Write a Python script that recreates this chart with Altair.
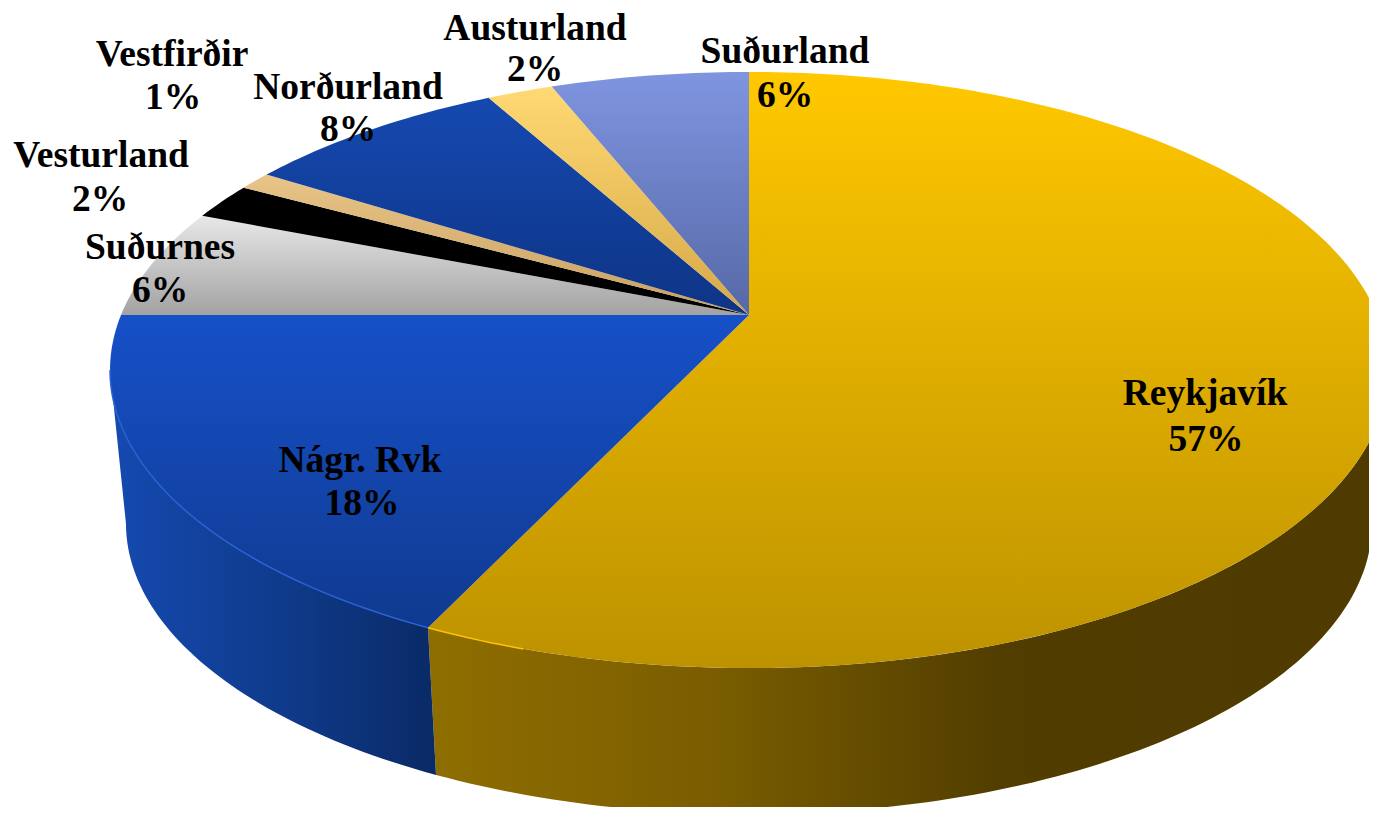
import math
import altair as alt
import pandas as pd

# ---- chart data ----
labels = ["Reykjavík", "Nágr. Rvk", "Suðurnes", "Vesturland", "Vestfirðir", "Norðurland", "Austurland", "Suðurland"]
values = [57, 18, 6, 2, 1, 8, 2, 6]

# ---- styles ----
top_colors = [
    ["#ffc800", "#bd9200"], ["#1650c8", "#103a90"], ["#e8e8e8", "#a2a2a2"], ["#000000", "#000000"],
    ["#e8c488", "#c8a060"], ["#1549b0", "#0e3485"], ["#ffd973", "#d6a848"], ["#7f95e0", "#5668a6"],
]
side_stops = {
    0: [(0, "#8f6e00"), (0.3, "#7a5d00"), (0.6, "#513d00"), (1, "#4f3b00")],
    1: [(0, "#154ab0"), (0.55, "#0f3a8a"), (1, "#0a2a66")],
}
rim_colors = {0: "#ffc400", 1: "#2a62d2"}

# ---- layout of the labels (page pixels, centre of each line) ----
name_x = [1205, 360, 160, 101, 172, 348, 535, 785]
name_y = [394, 461, 248, 156, 55, 88, 29, 52]
pct_x = [1206, 362, 160, 100, 173, 348, 535, 785]
pct_y = [440, 504, 291, 200, 98, 130, 70, 96]

# ---- perspective projection of the pie disc ----
K = 0.1846
TOP = dict(cx=749.0, cy=315.0, f=628.0, g=287.9)
BOT = dict(cx=749.0, cy=470.0, f=628.0 * 0.975, g=287.9 * 0.975)


def proj(t, p):
    a = math.radians(t)
    X, Y = math.sin(a), math.cos(a)
    w = 1 + K * Y
    return [round(p["cx"] + p["f"] * X / w, 2), round(p["cy"] - p["g"] * Y / w, 2)]


def arc(t0, t1, p):
    n = max(2, int(abs(t1 - t0)) + 1)
    return [proj(t0 + (t1 - t0) * i / n, p) for i in range(n + 1)]


def feature(kind, coords):
    return {"type": "Feature", "properties": {}, "geometry": {"type": kind, "coordinates": coords}}


def gradient(stops, horizontal=False):
    return alt.Gradient(
        gradient="linear",
        stops=[alt.GradientStop(offset=o, color=c) for o, c in stops],
        x1=0, y1=0, x2=1 if horizontal else 0, y2=0 if horizontal else 1,
    )


PROJ = dict(type="identity", scale=1, translate=[-8, -8])
TANG = math.degrees(math.asin(K))
vis_lo, vis_hi = 90 + TANG, 270 - TANG

sides, tops, rims = [], [], []
cum = 0.0
for i, v in enumerate(values):
    t0, t1 = cum * 3.6, (cum + v) * 3.6
    cum += v
    ring = [[TOP["cx"], TOP["cy"]]] + arc(t0, t1, TOP)
    ring.append(ring[0])
    tops.append(
        alt.Chart(alt.Data(values=[feature("Polygon", [ring])]))
        .mark_geoshape(fill=gradient([(0, top_colors[i][0]), (1, top_colors[i][1])]), strokeWidth=0)
        .project(**PROJ)
    )
    lo, hi = max(t0, vis_lo), min(t1, vis_hi)
    if lo < hi:
        side = arc(lo, hi, TOP) + arc(hi, lo, BOT)
        side.append(side[0])
        sides.append(
            alt.Chart(alt.Data(values=[feature("Polygon", [side])]))
            .mark_geoshape(fill=gradient(side_stops[i], horizontal=True), strokeWidth=0)
            .project(**PROJ)
        )
        rim = arc(hi - 8, hi, TOP) if i == 0 else arc(lo, hi, TOP)
        rims.append(
            alt.Chart(alt.Data(values=[feature("LineString", rim)]))
            .mark_geoshape(filled=False, stroke=rim_colors[i], strokeWidth=1.5)
            .project(**PROJ)
        )

df = pd.DataFrame({
    "name": labels,
    "pct": [f"{v}%" for v in values],
    "nx": [x - 8 for x in name_x], "ny": [y - 8 for y in name_y],
    "px": [x - 8 for x in pct_x], "py": [y - 8 for y in pct_y],
})
text = alt.Chart(df).mark_text(font="Liberation Serif", fontWeight="bold", fontSize=37.5, color="#000000", align="center", baseline="middle")
names = text.encode(x=alt.X("nx:Q", scale=None, axis=None), y=alt.Y("ny:Q", scale=None, axis=None), text="name:N")
pcts = text.encode(x=alt.X("px:Q", scale=None, axis=None), y=alt.Y("py:Q", scale=None, axis=None), text="pct:N")

chart = (
    alt.layer(*sides, *tops, *rims, names, pcts)
    .properties(width=1361, height=799, padding=0, autosize=alt.AutoSizeParams(type="none"))
    .configure_view(stroke=None)
)
chart.save("out.html", embed_options={"renderer": "svg", "actions": False})
